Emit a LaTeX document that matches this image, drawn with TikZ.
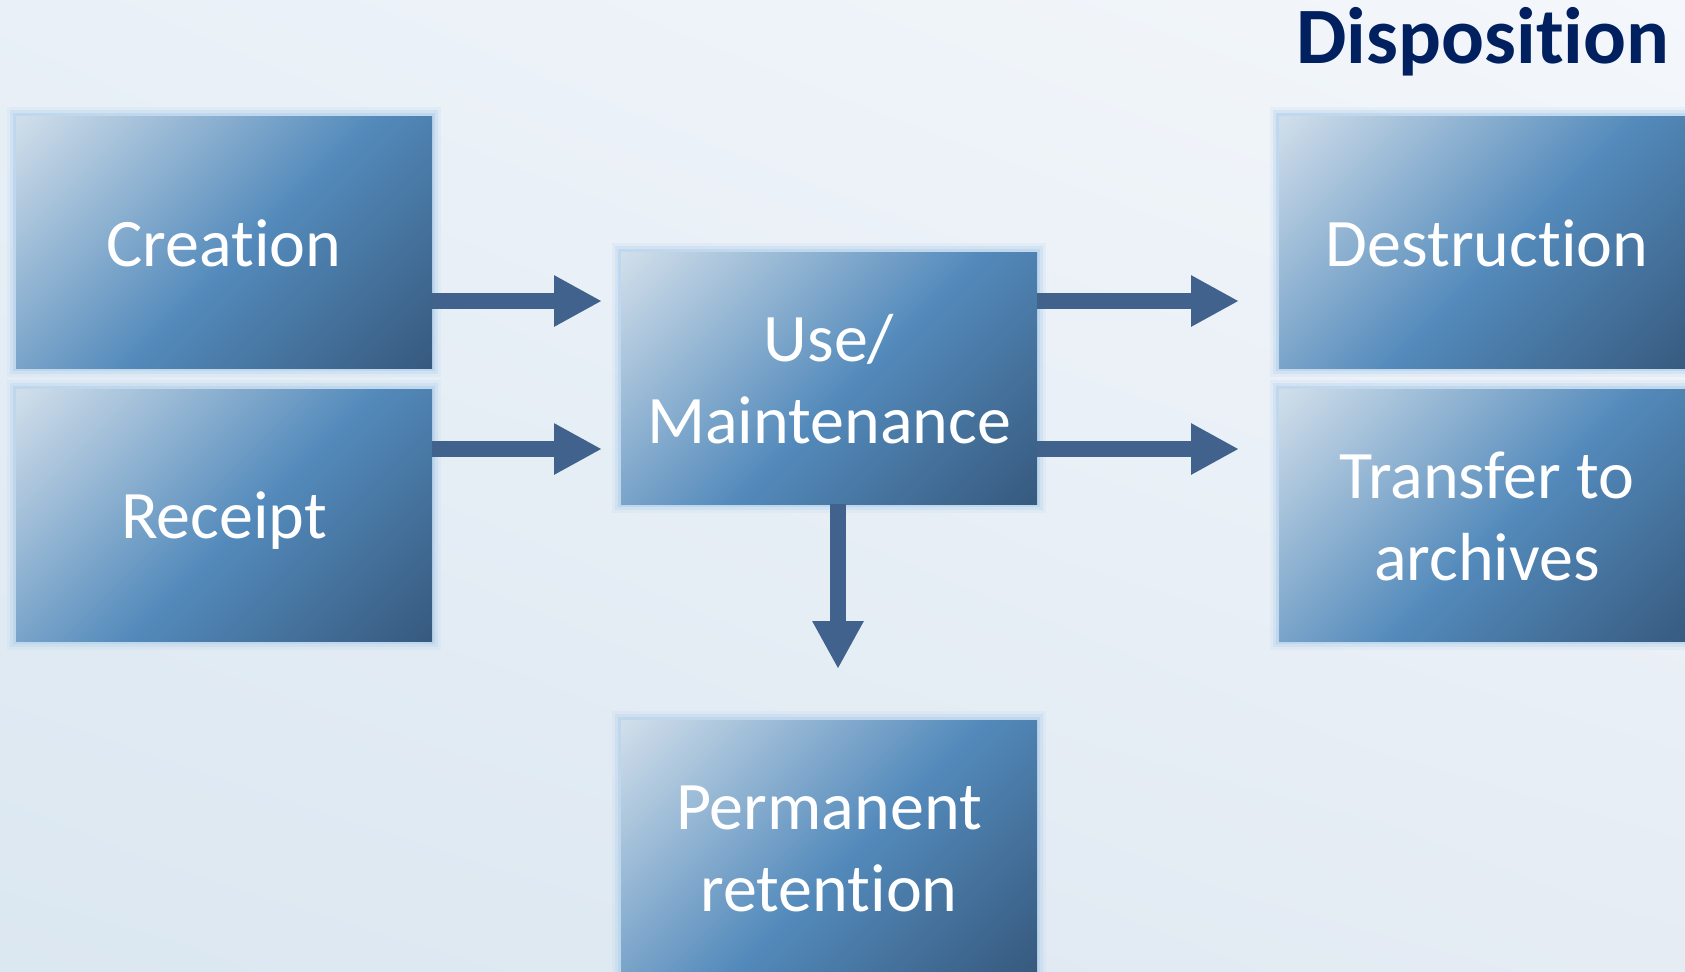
\documentclass[tikz,border=0pt]{standalone}
\usepackage{fontspec}
\setmainfont[Ligatures={NoCommon,NoContextual}]{Carlito}
\usetikzlibrary{arrows.meta,shadings}
\definecolor{bgUL}{RGB}{233,240,247}
\definecolor{bgUR}{RGB}{244,247,251}
\definecolor{bgLL}{RGB}{219,231,241}
\definecolor{bgLR}{RGB}{229,236,244}
\definecolor{boxlight}{RGB}{208,222,234}
\definecolor{boxmid}{RGB}{83,138,187}
\definecolor{boxdark}{RGB}{55,90,127}
\definecolor{glow}{RGB}{184,212,237}
\definecolor{arrowcol}{RGB}{65,98,140}
\definecolor{navy}{RGB}{0,32,96}
\pgfdeclarehorizontalshading{boxshade}{100bp}{color(0bp)=(boxlight); color(15bp)=(boxlight); color(53bp)=(boxmid); color(85bp)=(boxdark); color(100bp)=(boxdark)}
\newcommand{\ls}{\rule[-5pt]{0pt}{34pt}}
\begin{document}
\begin{tikzpicture}[x=0.5pt,y=-0.5pt,
  box/.style={shade, shading=boxshade, shading angle=-45, text=white,
    font=\fontsize{34}{41}\selectfont, align=center,
    minimum width=208pt, minimum height=126pt, inner sep=0pt, outer sep=0pt,
    preaction={draw=glow, draw opacity=0.18, line width=9pt},
    preaction={draw=glow, draw opacity=0.35, line width=6pt},
    preaction={draw=glow, draw opacity=0.7, line width=3pt}},
  blockarrow/.style={draw=arrowcol, line width=8pt,
    -{Triangle[length=24pt,width=24pt]}}]
\useasboundingbox (0,0) rectangle (1685,971);
\begin{scope}
\clip (0,0) rectangle (1685,971);
\shade[upper left=bgUL, upper right=bgUR, lower left=bgLL, lower right=bgLR] (0,0) rectangle (1685,971);
\node[anchor=base west, font=\bfseries\fontsize{40}{48}\selectfont, text=navy, inner sep=0pt] (disp) at (1296,63) {Disposition};
\node[box] (crea) at (224,242) {\ls Creation};
\node[box] (rece) at (224,515) {\ls Receipt};
\node[box] (use) at (829,378) {\ls Use/\\\ls Maintenance};
\node[box] (dest) at (1487,242) {\ls Destruction};
\node[box] (tran) at (1487,515) {\ls Transfer to\\\ls archives};
\node[box] (perm) at (829,846) {\ls Permanent\\\ls retention};
\draw[blockarrow, shorten >=9.5pt] ([yshift=-29.5pt]crea.east) -- ([yshift=38.5pt]use.west);
\draw[blockarrow, shorten >=9.5pt] ([yshift=33pt]rece.east) -- ([yshift=-35.5pt]use.west);
\draw[blockarrow, shorten >=20pt] ([yshift=38.5pt]use.east) -- ([yshift=-29.5pt]dest.west);
\draw[blockarrow, shorten >=20pt] ([yshift=-35.5pt]use.east) -- ([yshift=33pt]tran.west);
\draw[blockarrow, shorten >=25.5pt] ([xshift=4.5pt]use.south) -- ([xshift=4.5pt]perm.north);
\end{scope}
\end{tikzpicture}
\end{document}
